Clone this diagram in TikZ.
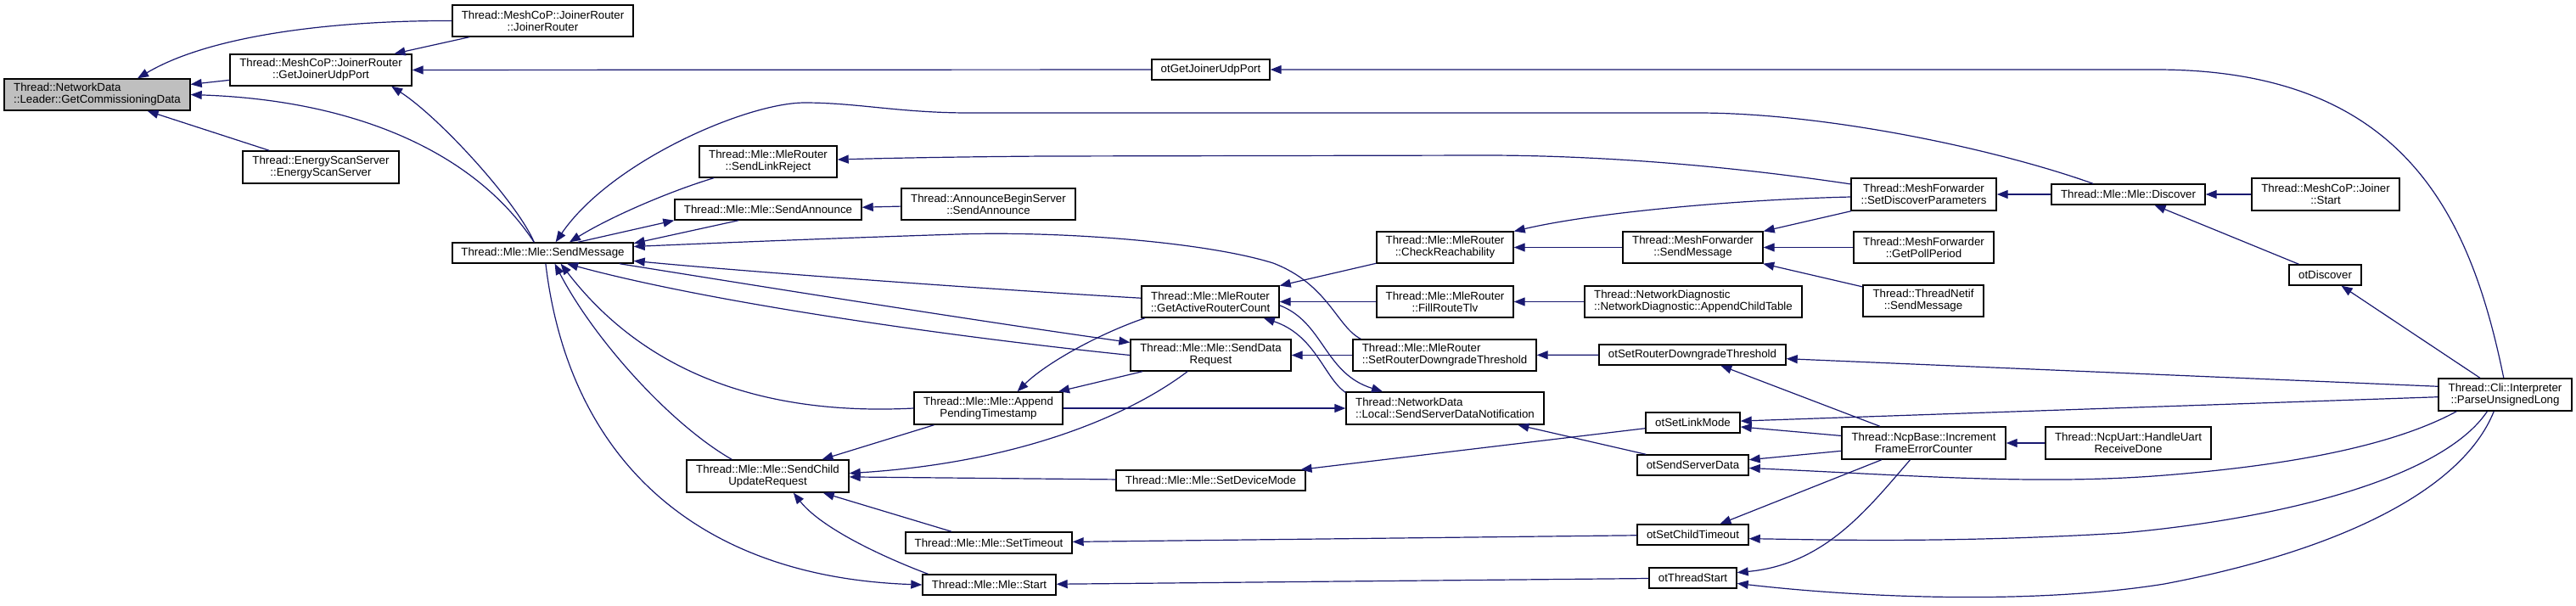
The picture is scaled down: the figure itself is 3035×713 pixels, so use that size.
\documentclass[tikz,border=0pt]{standalone}
\usepackage{fontspec}
\setmainfont{Liberation Sans}
\usetikzlibrary{arrows.meta}
\definecolor{edgec}{HTML}{191970}
\definecolor{rootc}{HTML}{BFBFBF}
\tikzset{
  box/.style={draw=black, line width=1.4pt, fill=white, inner sep=0pt, font=\fontsize{13.3}{14}\selectfont, align=center},
  lbox/.style={box, align=left},
  conn/.style={draw=edgec, line width=1.2pt, -{Triangle[length=13pt,width=10pt]}}
}
\newcommand{\mknode}[7][]{\node[box,#1,minimum width={#5pt-#3pt},minimum height={#6pt-#4pt}] (#2) at ({(#3+#5)/2},{(#4+#6)/2}) {#7};}
\begin{document}
\begin{tikzpicture}[x=1pt,y=-1pt]
\useasboundingbox[fill=white] (0,0) rectangle (3035,713);
% nodes
\mknode[lbox,fill=rootc]{GCD}{5}{93}{224}{130}{Thread::NetworkData\\::Leader::GetCommissioningData}
\mknode{JRJR}{533}{6}{746}{43}{Thread::MeshCoP::JoinerRouter\\::JoinerRouter}
\mknode{GJUP}{271}{64}{485}{101}{Thread::MeshCoP::JoinerRouter\\::GetJoinerUdpPort}
\mknode{ESS}{286}{178}{470}{216}{Thread::EnergyScanServer\\::EnergyScanServer}
\mknode{SM}{533}{286}{746}{310}{Thread::Mle::Mle::SendMessage}
\mknode{otGJUP}{1357}{70}{1496}{94}{otGetJoinerUdpPort}
\mknode{SLR}{824}{172}{986}{209}{Thread::Mle::MleRouter\\::SendLinkReject}
\mknode{SA}{795}{235}{1015}{259}{Thread::Mle::Mle::SendAnnounce}
\mknode{ABS}{1062}{222}{1267}{259}{Thread::AnnounceBeginServer\\::SendAnnounce}
\mknode{GARC}{1345}{337}{1507}{374}{Thread::Mle::MleRouter\\::GetActiveRouterCount}
\mknode{SDR}{1332}{400}{1521}{437}{Thread::Mle::Mle::SendData\\Request}
\mknode{APT}{1077}{462}{1252}{500}{Thread::Mle::Mle::Append\\PendingTimestamp}
\mknode{SCUR}{809}{542}{1000}{580}{Thread::Mle::Mle::SendChild\\UpdateRequest}
\mknode{SDM}{1315}{554}{1538}{578}{Thread::Mle::Mle::SetDeviceMode}
\mknode{STO}{1067}{627}{1263}{652}{Thread::Mle::Mle::SetTimeout}
\mknode{Start}{1087}{677}{1244}{701}{Thread::Mle::Mle::Start}
\mknode{SDP}{2181}{210}{2352}{248}{Thread::MeshForwarder\\::SetDiscoverParameters}
\mknode{CR}{1622}{273}{1783}{310}{Thread::Mle::MleRouter\\::CheckReachability}
\mknode{MFSM}{1912}{273}{2077}{310}{Thread::MeshForwarder\\::SendMessage}
\mknode{GPP}{2184}{273}{2349}{310}{Thread::MeshForwarder\\::GetPollPeriod}
\mknode{TNSM}{2195}{336}{2337}{373}{Thread::ThreadNetif\\::SendMessage}
\mknode{FRT}{1622}{337}{1783}{374}{Thread::Mle::MleRouter\\::FillRouteTlv}
\mknode[lbox]{ACT}{1867}{337}{2123}{374}{Thread::NetworkDiagnostic\\::NetworkDiagnostic::AppendChildTable}
\mknode[lbox]{SRDTMR}{1594}{400}{1810}{437}{Thread::Mle::MleRouter\\::SetRouterDowngradeThreshold}
\mknode{otSRDT}{1884}{406}{2104}{430}{otSetRouterDowngradeThreshold}
\mknode[lbox]{SSDN}{1586}{462}{1819}{500}{Thread::NetworkData\\::Local::SendServerDataNotification}
\mknode{otSLM}{1939}{486}{2050}{510}{otSetLinkMode}
\mknode{otSSD}{1929}{536}{2060}{560}{otSendServerData}
\mknode{IFEC}{2170}{503}{2363}{541}{Thread::NcpBase::Increment\\FrameErrorCounter}
\mknode{otSCT}{1929}{618}{2060}{642}{otSetChildTimeout}
\mknode{otTS}{1943}{669}{2046}{693}{otThreadStart}
\mknode{DISC}{2417}{217}{2598}{241}{Thread::Mle::Mle::Discover}
\mknode{JS}{2653}{210}{2827}{248}{Thread::MeshCoP::Joiner\\::Start}
\mknode{otDISC}{2697}{312}{2782}{336}{otDiscover}
\mknode{PUL}{2873}{446}{3030}{484}{Thread::Cli::Interpreter\\::ParseUnsignedLong}
\mknode{HURD}{2410}{503}{2605}{541}{Thread::NcpUart::HandleUart\\ReceiveDone}
% edges into GCD / GJUP
\draw[conn] (JRJR.west) .. controls (400,24) and (250,40) .. (GCD.22);
\draw[conn] (GJUP) -- (GCD);
\draw[conn] (SM.129) .. controls (560,180) and (420,118) .. (GCD.east);
\draw[conn] (ESS) -- (GCD);
\draw[conn] (JRJR) -- (GJUP);
\draw[conn] (otGJUP) -- (GJUP);
\draw[conn] (SM.129) .. controls (610,240) and (520,140) .. (GJUP.-13.5);
\draw[conn] (PUL.95) .. controls (2910,250) and (2830,82) .. (2540,82) -- (otGJUP);
% SendMessage
\draw[conn] (DISC.163) .. controls (2350,175) and (2150,133) .. (2000,133) -- (1142,133) .. controls (1060,133) and (1010,121) .. (948,121) .. controls (880,121) and (720,190) .. (SM.40);
\draw[conn] (SLR) .. controls (790,225) and (720,255) .. (SM.22);
\draw[conn] (SM.17) -- (SA.south west);
\draw[conn] (SA.200) -- (SM.6);
\draw[conn] (ABS) -- (SA);
\draw[conn] (SRDTMR.169) .. controls (1575,385) and (1565,335) .. (1500,310) .. controls (1420,285) and (1250,272) .. (1128,276) .. controls (1000,280) and (850,286) .. (SM.4);
\draw[conn] (GARC.177) .. controls (1200,343) and (900,322) .. (SM.-5);
\draw[conn] (SM.-8) .. controls (900,338) and (1150,378) .. (SDR.171);
\draw[conn] (SDR.west) .. controls (1150,400) and (850,360) .. (SM.-24);
\draw[conn] (APT.west) .. controls (900,490) and (760,440) .. (SM.-31);
\draw[conn] (SCUR.155) .. controls (790,500) and (700,400) .. (SM.-42);
\draw[conn] (SM.-75) .. controls (670,540) and (820,680) .. (Start.west);
% SendChildUpdateRequest etc.
\draw[conn] (Start.170) .. controls (1050,660) and (970,625) .. (SCUR.-33);
\draw[conn] (STO) -- (SCUR);
\draw[conn] (otSCT) -- (STO);
\draw[conn] (otTS) -- (Start);
\draw[conn] (SDM) -- (SCUR);
\draw[conn] (APT) -- (SCUR);
\draw[conn] (SDR.215) .. controls (1330,490) and (1200,545) .. (SCUR.2);
\draw[conn] (GARC.194) .. controls (1290,395) and (1230,430) .. (APT.30);
\draw[conn] (SDR) -- (APT);
\draw[conn] (APT) -- (SSDN);
\draw[conn] (GARC.-3) .. controls (1560,380) and (1560,440) .. (SSDN.165);
\draw[conn] (SSDN.171) .. controls (1560,445) and (1550,395) .. (GARC.-17);
\draw[conn] (CR) -- (GARC);
\draw[conn] (FRT) -- (GARC);
\draw[conn] (ACT) -- (FRT);
\draw[conn] (SRDTMR) -- (SDR);
\draw[conn] (otSRDT) -- (SRDTMR);
\draw[conn] (otSSD) -- (SSDN);
\draw[conn] (otSLM) -- (SDM);
% NcpBase and ParseUnsignedLong
\draw[conn] (IFEC) -- (otSLM);
\draw[conn] (PUL) -- (otSLM);
\draw[conn] (IFEC) -- (otSSD);
\draw[conn] (PUL.199) .. controls (2820,525) and (2700,548) .. (2550,560) .. controls (2400,572) and (2250,560) .. (otSSD.-3);
\draw[conn] (IFEC) -- (otSCT);
\draw[conn] (PUL.223) .. controls (2880,560) and (2700,610) .. (2500,628) .. controls (2300,640) and (2150,636) .. (otSCT.-4);
\draw[conn] (IFEC.231) .. controls (2200,600) and (2150,665) .. (otTS.7);
\draw[conn] (PUL.236) .. controls (2900,580) and (2750,650) .. (2550,688) .. controls (2400,712) and (2200,705) .. (otTS.-7);
\draw[conn] (IFEC) -- (otSRDT);
\draw[conn] (PUL.173) -- (otSRDT);
\draw[conn] (HURD) -- (IFEC);
% MeshForwarder / Discover
\draw[conn] (TNSM) -- (MFSM);
\draw[conn] (GPP) -- (MFSM);
\draw[conn] (SDP) -- (MFSM);
\draw[conn] (MFSM) -- (CR);
\draw[conn] (SDP.182) .. controls (2050,235) and (1880,250) .. (CR);
\draw[conn] (SDP.172) .. controls (2000,190) and (1850,183) .. (1750,183) -- (1230,184) .. controls (1100,185) and (1020,187) .. (SLR);
\draw[conn] (DISC) -- (SDP);
\draw[conn] (JS) -- (DISC);
\draw[conn] (otDISC) -- (DISC);
\draw[conn] (PUL) -- (otDISC);
\end{tikzpicture}
\end{document}
